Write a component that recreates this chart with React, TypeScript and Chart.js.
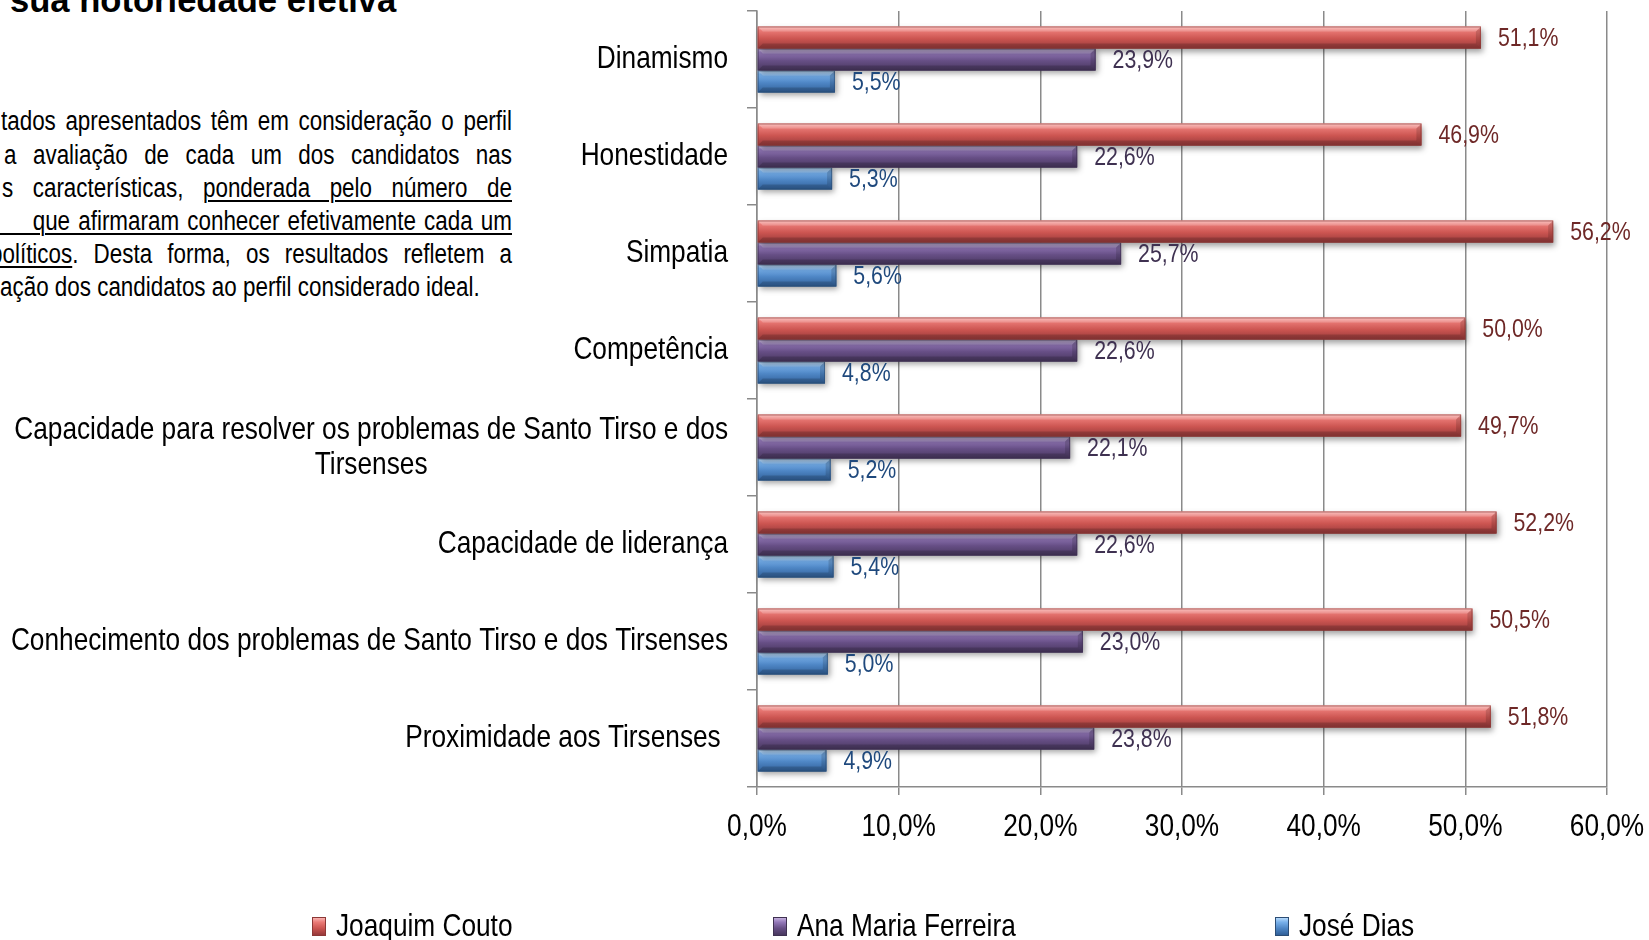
import React, { useEffect, useRef } from 'react';
import { Chart, registerables } from 'chart.js';

Chart.register(...registerables);

// ---------- data ----------
const categories: string[][] = [
  ['Dinamismo'],
  ['Honestidade'],
  ['Simpatia'],
  ['Competência'],
  ['Capacidade para resolver os problemas de Santo Tirso e dos', 'Tirsenses'],
  ['Capacidade de liderança'],
  ['Conhecimento dos problemas de Santo Tirso e dos Tirsenses'],
  ['Proximidade aos Tirsenses '],
];
const seriesNames = ['Joaquim Couto', 'Ana Maria Ferreira', 'José Dias'];
const joaquimCouto = [51.1, 46.9, 56.2, 50.0, 49.7, 52.2, 50.5, 51.8];
const anaMariaFerreira = [23.9, 22.6, 25.7, 22.6, 22.1, 22.6, 23.0, 23.8];
const joseDias = [5.5, 5.3, 5.6, 4.8, 5.2, 5.4, 5.0, 4.9];
const xMin = 0;
const xMax = 60;
const xStep = 10;

// ---------- styles ----------
const FAMILY = "'Liberation Sans', Arial, sans-serif";
const SX = 0.82; // horizontal condensing (Arial Narrow look)
const palettes = [
  { hi: '#F8B2B0', top: '#EA7A76', base: '#CC5551', bottom: '#96393A', edge: '#8C3836', label: '#6E2827' },
  { hi: '#C2AEDC', top: '#9378B8', base: '#674F86', bottom: '#48375E', edge: '#3F3151', label: '#3F3151' },
  { hi: '#B4D8FA', top: '#78B0EA', base: '#4F87C6', bottom: '#305F98', edge: '#2C4D75', label: '#1F497D' },
];
const fmt = (v: number) => v.toFixed(1).replace('.', ',') + '%';

function narrowText(ctx: CanvasRenderingContext2D, text: string, x: number, y: number, align: CanvasTextAlign, sx = SX) {
  ctx.save();
  ctx.translate(x, y);
  ctx.scale(sx, 1);
  ctx.textAlign = align;
  ctx.fillText(text, 0, 0);
  ctx.restore();
}

const barLookPlugin = {
  id: 'barLook',
  afterDatasetsDraw(chart: any) {
    const ctx: CanvasRenderingContext2D = chart.ctx;
    const n = chart.data.datasets.length;
    for (let di = n - 1; di >= 0; di--) {
      const meta = chart.getDatasetMeta(di);
      const p = palettes[di];
      meta.data.forEach((bar: any) => {
        const { x, y, base, height } = bar.getProps(['x', 'y', 'base', 'height'], true);
        const x0 = Math.min(base, x);
        const x1 = Math.max(base, x);
        const t = y - height / 2;
        const b = y + height / 2;
        const g = ctx.createLinearGradient(0, t, 0, b);
        g.addColorStop(0, p.hi);
        g.addColorStop(0.18, p.top);
        g.addColorStop(0.55, p.base);
        g.addColorStop(1, p.bottom);
        ctx.save();
        ctx.shadowColor = 'rgba(0,0,0,0.38)';
        ctx.shadowBlur = 6;
        ctx.shadowOffsetX = 2;
        ctx.shadowOffsetY = 3;
        ctx.fillStyle = g;
        ctx.fillRect(x0, t, x1 - x0, b - t);
        ctx.restore();
        const bv = Math.min(5, (x1 - x0) / 2);
        ctx.save();
        ctx.beginPath();
        ctx.moveTo(x0, t);
        ctx.lineTo(x1, t);
        ctx.lineTo(x1 - bv, t + bv);
        ctx.lineTo(x0 + bv, t + bv);
        ctx.closePath();
        ctx.fillStyle = 'rgba(255,255,255,0.22)';
        ctx.fill();
        ctx.beginPath();
        ctx.moveTo(x0 + bv, b - bv);
        ctx.lineTo(x1 - bv, b - bv);
        ctx.lineTo(x1, b);
        ctx.lineTo(x0, b);
        ctx.closePath();
        ctx.fillStyle = 'rgba(0,0,0,0.16)';
        ctx.fill();
        ctx.beginPath();
        ctx.moveTo(x1 - bv, t + bv);
        ctx.lineTo(x1, t);
        ctx.lineTo(x1, b);
        ctx.lineTo(x1 - bv, b - bv);
        ctx.closePath();
        ctx.fillStyle = 'rgba(0,0,0,0.14)';
        ctx.fill();
        ctx.strokeStyle = p.edge;
        ctx.globalAlpha = 0.6;
        ctx.lineWidth = 1;
        ctx.strokeRect(x0 + 0.5, t + 0.5, x1 - x0 - 1, b - t - 1);
        ctx.restore();
      });
    }
    // value labels
    ctx.save();
    ctx.font = `26px ${FAMILY}`;
    ctx.textBaseline = 'middle';
    for (let di = 0; di < n; di++) {
      const meta = chart.getDatasetMeta(di);
      const ds = chart.data.datasets[di];
      ctx.fillStyle = palettes[di].label;
      meta.data.forEach((bar: any, i: number) => {
        const { x, y } = bar.getProps(['x', 'y'], true);
        narrowText(ctx, fmt(ds.data[i]), x + 17, y + 1.5, 'left');
      });
    }
    ctx.restore();
  },
  afterDraw(chart: any) {
    const ctx: CanvasRenderingContext2D = chart.ctx;
    // category labels (right aligned block, lines centred within block)
    const yScale = chart.scales.y;
    const right = yScale.right - 29;
    const lh = 35;
    ctx.save();
    ctx.font = `32px ${FAMILY}`;
    ctx.fillStyle = '#000';
    ctx.textBaseline = 'middle';
    categories.forEach((lines, i) => {
      const cy = yScale.getPixelForValue(i);
      const widths = lines.map((l) => ctx.measureText(l).width * SX);
      const w = Math.max(...widths);
      const cx = right - w / 2;
      lines.forEach((l, k) => {
        const yy = cy + (k - (lines.length - 1) / 2) * lh;
        narrowText(ctx, l, cx, yy, 'center');
      });
    });
    // x tick labels
    const xScale = chart.scales.x;
    ctx.font = `32px ${FAMILY}`;
    for (let v = xMin; v <= xMax; v += xStep) {
      narrowText(ctx, fmt(v), xScale.getPixelForValue(v), xScale.top + 40, 'center');
    }
    ctx.restore();
  },
};

const legendBoxX = [312, 773, 1275];

const paragraphLines = [
  { left: 1, justify: true, parts: [{ t: 'tados apresentados têm em consideração o perfil', u: false }] },
  { left: 4, justify: true, parts: [{ t: 'a avaliação de cada um dos candidatos nas', u: false }] },
  { left: 2, justify: true, parts: [{ t: 's características, ', u: false }, { t: 'ponderada pelo número de', u: true }] },
  { left: 0, justify: true, parts: [{ t: '\u00a0\u00a0\u00a0\u00a0que afirmaram conhecer efetivamente cada um', u: true }] },
  { left: -10, justify: true, parts: [{ t: 'políticos', u: true }, { t: '. Desta forma, os resultados refletem a', u: false }] },
  { left: 0, justify: false, parts: [{ t: 'ação dos candidatos ao perfil considerado ideal.', u: false }] },
];
const paragraphBaselines = [131, 164.5, 197.5, 230.5, 263.5, 297];
const PARA_SIZE = 27;
const PARA_SX = 0.83;

export default function App() {
  const canvasRef = useRef<HTMLCanvasElement | null>(null);

  useEffect(() => {
    const canvas = canvasRef.current;
    if (!canvas) return;
    const chart = new Chart(canvas, {
      type: 'bar',
      data: {
        labels: categories,
        datasets: [
          { label: seriesNames[0], data: joaquimCouto, backgroundColor: palettes[0].base, borderWidth: 0 },
          { label: seriesNames[1], data: anaMariaFerreira, backgroundColor: palettes[1].base, borderWidth: 0 },
          { label: seriesNames[2], data: joseDias, backgroundColor: palettes[2].base, borderWidth: 0 },
        ],
      },
      options: {
        indexAxis: 'y',
        responsive: false,
        maintainAspectRatio: false,
        animation: false,
        devicePixelRatio: 1,
        layout: { padding: { left: 0, right: 42, top: 11, bottom: 0 } },
        datasets: { bar: { categoryPercentage: 0.68, barPercentage: 1 } },
        plugins: { legend: { display: false }, tooltip: { enabled: false } },
        scales: {
          x: {
            type: 'linear',
            position: 'bottom',
            min: xMin,
            max: xMax,
            ticks: {
              stepSize: xStep,
              padding: 13,
              color: 'rgba(0,0,0,0)',
              font: { family: FAMILY, size: 30 },
              callback: (v: any) => fmt(Number(v)),
            },
            grid: { color: '#8a8a8a', lineWidth: 1.5, drawTicks: true, tickLength: 8 },
            border: { color: '#8a8a8a', width: 1.5 },
            afterFit: (s: any) => {
              s.height = 153;
              s.paddingLeft = 0;
              s.paddingRight = 0;
            },
          },
          y: {
            type: 'category',
            position: 'left',
            offset: true,
            ticks: { display: false },
            grid: { offset: true, drawOnChartArea: false, drawTicks: true, tickLength: 10, color: '#8a8a8a', lineWidth: 1.5 },
            border: { color: '#8a8a8a', width: 1.5 },
            afterFit: (s: any) => {
              s.width = 757;
              s.paddingTop = 0;
              s.paddingBottom = 0;
            },
          },
        },
      } as any,
      plugins: [barLookPlugin],
    });
    return () => chart.destroy();
  }, []);

  return (
    <div style={{ position: 'fixed', left: 0, top: 0, width: 1649, height: 940, overflow: 'hidden', background: '#fff' }}>
      <div
        style={{
          position: 'absolute', left: 10, top: 12.7 - 0.8465 * 34.6, fontFamily: FAMILY,
          fontWeight: 'bold', fontSize: 34.6, lineHeight: 1, whiteSpace: 'nowrap', color: '#000',
        }}
      >
        sua notoriedade efetiva
      </div>
      {paragraphLines.map((ln, i) => (
        <div
          key={i}
          style={{
            position: 'absolute', left: ln.left, width: (512 - ln.left) / PARA_SX, top: paragraphBaselines[i] - 0.8465 * PARA_SIZE,
            fontFamily: FAMILY, fontSize: PARA_SIZE, lineHeight: 1, color: '#000',
            transform: `scaleX(${PARA_SX})`, transformOrigin: '0 0',
            textAlign: ln.justify ? 'justify' : 'left', textAlignLast: ln.justify ? 'justify' : 'left',
          } as any}
        >
          {ln.parts.map((p, k) => (
            <span
              key={k}
              style={p.u ? { textDecoration: 'underline', textUnderlineOffset: 3, textDecorationThickness: 1.5 } as any : undefined}
            >
              {p.t}
            </span>
          ))}
        </div>
      ))}
      <canvas ref={canvasRef} width={1649} height={940} style={{ position: 'absolute', left: 0, top: 0, width: 1649, height: 940 }} />
      {seriesNames.map((name, i) => (
        <React.Fragment key={name}>
          <div
            style={{
              position: 'absolute', left: legendBoxX[i], top: 917, width: 14, height: 19, boxSizing: 'border-box',
              border: `1px solid ${palettes[i].edge}`,
              background: `linear-gradient(to bottom, ${palettes[i].hi} 0%, ${palettes[i].top} 25%, ${palettes[i].base} 60%, ${palettes[i].bottom} 100%)`,
            }}
          />
          <div
            style={{
              position: 'absolute', left: legendBoxX[i] + 24, top: 936 - 0.8465 * 32, fontFamily: FAMILY,
              fontSize: 32, lineHeight: 1, whiteSpace: 'nowrap', color: '#000',
              transform: `scaleX(${SX})`, transformOrigin: '0 0',
            }}
          >
            {name}
          </div>
        </React.Fragment>
      ))}
    </div>
  );
}
